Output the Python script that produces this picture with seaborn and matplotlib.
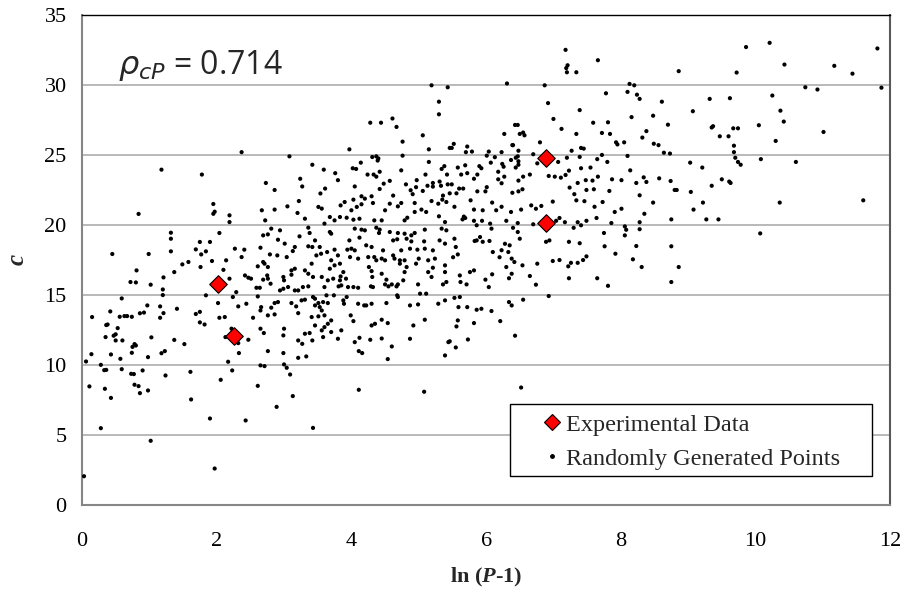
import matplotlib
matplotlib.use("Agg")
import matplotlib.pyplot as plt
import seaborn as sns
import pandas as pd
from matplotlib.lines import Line2D
from matplotlib.patches import Rectangle

# ---------------- data ----------------
exp_x = [2.02, 2.26, 6.89, 6.89]
exp_y = [15.80, 12.05, 24.80, 20.15]

random_points = [
    # upper-left / upper band
    (1.18, 23.95), (1.78, 23.6),
    (5.19, 29.97), (5.43, 29.83), (5.30, 28.8), (5.30, 27.9), (4.28, 27.3), (4.44, 27.3),
    (4.61, 27.6), (4.67, 27.0), (5.06, 26.4), (4.76, 25.95), (5.15, 25.4), (5.46, 25.5),
    (2.37, 25.2), (3.08, 24.9), (3.97, 25.4), (4.31, 24.85), (4.37, 24.9), (4.40, 24.75),
    (4.39, 24.6), (4.76, 24.95), (3.42, 24.3), (3.59, 23.95), (3.76, 23.7), (3.80, 23.2),
    (4.02, 24.05), (4.07, 24.0), (4.14, 24.45), (4.24, 23.6), (4.33, 23.6), (4.37, 23.45),
    (4.42, 23.8), (4.74, 23.9), (5.15, 24.5), (5.38, 24.2), (5.34, 24.0), (5.42, 23.6),
    (5.10, 23.6), (2.73, 23.0), (2.86, 22.5), (3.24, 23.3), (3.27, 22.75), (3.54, 22.25),
    (3.61, 22.6), (4.05, 22.75), (4.48, 22.95), (4.57, 23.15), (4.42, 22.57), (4.62, 22.1),
    (4.81, 22.9), (4.88, 22.48), (4.96, 22.7), (4.91, 22.2), (5.06, 22.43), (4.97, 23.2),
    (5.13, 22.8), (5.21, 23.0), (5.21, 22.74), (5.31, 23.1), (5.33, 22.8), (5.36, 22.1),
    (5.43, 22.9), (5.46, 22.26), (4.15, 22.05), (4.30, 22.05),
    # x 5.5-8.8, y > 22
    (7.18, 32.5), (7.66, 31.76), (7.19, 31.2), (7.21, 31.4), (7.20, 30.9), (7.34, 30.9),
    (6.31, 30.1), (6.87, 29.97), (8.13, 30.07), (8.20, 29.97), (7.78, 29.4), (8.10, 29.5),
    (8.24, 29.3), (8.28, 29.0), (8.61, 28.8), (6.92, 28.7), (7.39, 28.2), (7.00, 27.57),
    (8.16, 27.7), (8.48, 27.8), (8.70, 27.16), (7.59, 27.3), (7.81, 27.33), (7.12, 26.86),
    (6.43, 27.14), (6.47, 27.14), (6.27, 26.5), (6.50, 26.5), (6.55, 26.6), (6.57, 26.4),
    (7.34, 26.5), (7.72, 26.57), (7.84, 26.5), (8.38, 26.7), (8.32, 26.24), (7.93, 25.9),
    (7.95, 25.75), (8.05, 25.9), (8.49, 25.8), (8.56, 25.7), (6.80, 25.9), (6.39, 25.7),
    (6.48, 25.3), (7.41, 25.5), (7.45, 25.45), (7.27, 25.3), (8.64, 25.16), (8.73, 25.1),
    (7.72, 25.0), (8.10, 24.93), (7.39, 24.86), (7.20, 24.8), (7.07, 24.5), (7.80, 24.5),
    (7.65, 24.7), (6.70, 25.05), (6.76, 24.4), (6.47, 24.9), (6.44, 24.8), (6.48, 24.55),
    (6.48, 24.3), (6.44, 24.1),
    (5.49, 25.5), (5.52, 25.79), (5.72, 25.6), (5.79, 25.24), (5.70, 25.2), (5.58, 24.1),
    (5.69, 24.26), (5.63, 23.6), (5.72, 23.7), (5.82, 23.3), (5.87, 23.6), (5.90, 24.2),
    (5.93, 24.05), (6.01, 24.95), (6.04, 25.24), (6.07, 24.45), (6.13, 24.84), (6.23, 25.2),
    (6.24, 24.36), (6.26, 24.16), (6.18, 23.8), (6.18, 23.26), (6.23, 22.98), (6.27, 23.45),
    (6.37, 24.64), (6.40, 25.7), (6.48, 23.17), (6.55, 23.45), (6.65, 23.6), (6.39, 22.3),
    (6.48, 22.4), (6.54, 22.55), (5.49, 22.9), (5.60, 22.6), (5.66, 22.6), (5.56, 22.26),
    (5.87, 22.4), (5.99, 22.4), (6.01, 22.7),
    (6.93, 23.5), (7.02, 23.45), (7.11, 23.38), (7.18, 23.57), (7.23, 23.88), (7.24, 22.67),
    (7.31, 22.2), (7.36, 23.0), (7.48, 23.2), (7.49, 22.5), (7.58, 23.17), (7.60, 22.55),
    (7.55, 24.1), (7.66, 23.45), (7.87, 23.26), (8.01, 23.2), (7.83, 22.43), (8.14, 23.9),
    (8.23, 23.0), (8.34, 23.4), (8.38, 23.07), (8.57, 23.33), (8.74, 23.14), (8.28, 22.12),
    (8.80, 22.5), (7.41, 24.05),
    # right part
    (8.86, 30.98), (9.86, 32.7), (10.21, 33.0), (11.81, 32.6), (9.72, 30.88), (10.43, 31.45),
    (11.17, 31.36), (11.44, 30.8), (10.74, 29.83), (10.92, 29.67), (11.87, 29.8), (9.32, 29.0),
    (9.62, 29.05), (10.25, 29.24), (9.07, 28.12), (10.37, 28.16), (10.42, 27.38), (9.35, 26.96),
    (9.37, 27.05), (9.67, 26.9), (9.74, 26.9), (10.05, 27.12), (11.01, 26.64), (9.47, 26.33),
    (9.60, 26.33), (9.68, 25.66), (10.30, 26.0), (9.68, 25.2), (9.70, 24.8), (9.74, 24.5),
    (9.78, 24.3), (10.08, 24.7), (10.60, 24.5), (9.03, 24.45), (9.21, 24.1), (9.50, 23.26),
    (9.61, 23.1), (9.63, 23.0), (9.35, 22.8), (8.83, 22.5), (9.04, 22.36),
    (9.22, 21.6), (9.08, 21.1), (9.27, 20.4), (9.45, 20.4), (10.36, 21.6), (11.60, 21.76),
    (10.07, 19.4), (8.86, 17.0),
    # x 5.5-8.8, y < 22
    (6.09, 21.6), (5.77, 21.76), (6.82, 21.36), (6.99, 21.67), (7.34, 21.76), (7.46, 21.7),
    (7.61, 21.3), (7.73, 21.64), (8.48, 21.6), (5.53, 21.3), (5.65, 20.4), (5.67, 20.6),
    (5.69, 20.5), (5.82, 21.1), (5.95, 21.05), (6.15, 21.05), (6.23, 21.3), (6.37, 20.93),
    (6.52, 21.1), (6.67, 21.4), (6.74, 21.16), (5.82, 20.3), (5.94, 20.3), (5.86, 19.98),
    (6.06, 20.1), (6.08, 19.74), (6.30, 20.3), (6.47, 20.14), (6.40, 19.8), (6.47, 19.5),
    (6.70, 20.05), (7.04, 20.3), (7.09, 20.5), (7.17, 20.2), (7.30, 19.8), (7.36, 20.2),
    (7.41, 19.98), (7.49, 20.3), (7.64, 20.5), (7.86, 20.14), (7.91, 20.93), (8.01, 21.16),
    (8.06, 19.9), (8.08, 19.66), (8.28, 20.2), (8.28, 19.7), (8.35, 20.8), (8.75, 20.4),
    (5.53, 19.02), (5.55, 18.43), (5.51, 17.7), (5.58, 17.9), (5.91, 19.14), (5.86, 18.9),
    (5.95, 18.8), (6.05, 18.86), (5.83, 18.86), (6.10, 18.07), (6.23, 18.2), (6.28, 18.66),
    (6.35, 18.55), (6.33, 18.07), (6.38, 17.6), (6.20, 17.7), (6.42, 17.36), (6.30, 17.0),
    (6.50, 19.02), (6.54, 17.12), (6.76, 17.24), (6.94, 18.9), (6.89, 18.8), (7.23, 18.8),
    (7.39, 18.7), (6.99, 17.43), (7.09, 17.5), (7.22, 17.05), (7.26, 17.3), (7.36, 17.3),
    (7.44, 17.5), (7.49, 17.76), (7.75, 19.43), (7.76, 18.48), (7.92, 17.95), (8.06, 19.26),
    (8.18, 17.55), (8.23, 18.5), (8.31, 17.0), (8.75, 18.48), (8.75, 15.93), (7.81, 15.66),
    (7.65, 16.2), (7.23, 16.2), (6.74, 15.74), (6.65, 16.36), (6.38, 16.52), (6.34, 16.2),
    (6.09, 16.48), (5.99, 16.1), (6.04, 15.57), (5.76, 16.64), (5.82, 16.76), (5.61, 16.4),
    (5.62, 15.93), (5.71, 15.76), (5.53, 14.8), (5.61, 14.86), (5.59, 14.14), (5.72, 14.14),
    (5.86, 13.95), (5.93, 14.02), (6.08, 13.86), (6.21, 13.14), (6.34, 14.5), (6.38, 14.26),
    (6.55, 14.67), (6.93, 14.93), (6.43, 12.1), (5.82, 13.0), (5.58, 13.19), (5.56, 12.76),
    (5.73, 11.83), (5.55, 11.26), (5.46, 11.7), (6.52, 8.4),
    # left part
    (0.84, 20.79), (1.95, 21.5), (1.95, 20.8), (1.97, 20.95), (0.45, 17.93), (0.99, 17.93),
    (1.32, 19.45), (1.32, 19.02), (1.32, 18.12), (1.37, 16.64), (1.49, 17.19), (1.58, 17.36),
    (1.69, 18.26), (1.75, 18.79), (1.77, 17.9), (1.84, 18.12), (1.90, 18.79), (1.93, 17.43),
    (2.04, 19.43), (1.76, 17.0), (2.10, 16.8), (0.81, 16.76), (0.72, 15.93), (0.80, 15.9),
    (1.02, 15.74), (1.21, 16.26), (1.20, 15.4), (1.20, 15.0), (0.59, 14.76), (0.42, 13.83),
    (0.15, 13.43), (0.56, 13.45), (0.63, 13.5), (0.67, 13.5), (0.74, 13.45), (0.86, 13.7),
    (0.92, 13.75), (0.97, 14.26), (1.16, 14.19), (1.21, 13.71), (1.16, 13.38), (1.41, 14.02),
    (1.69, 13.65), (1.75, 13.8), (1.75, 13.05), (1.82, 12.9), (1.84, 14.98), (2.02, 14.43),
    (2.04, 13.38), (0.36, 12.86), (0.38, 12.9), (0.53, 12.64), (0.50, 12.2), (0.47, 12.1),
    (0.35, 12.0), (0.50, 11.76), (0.60, 11.76), (1.03, 11.98), (1.37, 11.8), (1.52, 11.5),
    (0.78, 11.5), (0.80, 11.4), (0.75, 11.3), (0.74, 10.88), (0.57, 10.45), (0.43, 10.76),
    (0.14, 10.78), (0.06, 10.26), (0.28, 10.02), (0.98, 10.57), (1.18, 10.85), (1.23, 11.0),
    (0.33, 9.64), (0.36, 9.66), (0.59, 9.71), (0.73, 9.38), (0.77, 9.36), (0.90, 9.62),
    (1.24, 9.26), (1.61, 9.52), (2.06, 8.95), (0.11, 8.48), (0.34, 8.31), (0.78, 8.6),
    (0.84, 8.5), (0.86, 8.0), (0.98, 8.19), (2.13, 12.0),
    (0.43, 7.66), (0.28, 5.5), (1.02, 4.6), (1.62, 7.55), (1.90, 6.19), (1.97, 2.62),
    (0.03, 2.07), (2.43, 6.05), (2.89, 7.02), (3.13, 7.79), (3.43, 5.52),
    # dense centre x 2.1-5.5, y 8-22
    (3.22, 21.71), (3.51, 21.29), (3.56, 21.17), (3.84, 21.40), (3.90, 21.64), (4.03, 21.81),
    (4.15, 21.48), (4.20, 21.88), (4.32, 21.57), (4.57, 21.52), (4.74, 21.57), (4.94, 21.57),
    (5.19, 21.71), (5.29, 21.52), (5.35, 21.81), (5.41, 21.64), (2.67, 21.05), (2.86, 21.10),
    (3.05, 21.33), (4.00, 21.05), (4.08, 21.29), (4.50, 21.05), (4.69, 21.33), (4.94, 20.93),
    (5.04, 21.10), (5.11, 20.93), (2.19, 20.69), (2.19, 20.21), (2.72, 20.33), (3.20, 20.86),
    (3.31, 20.45), (3.60, 20.10), (3.68, 20.57), (3.75, 20.33), (3.83, 20.57), (3.93, 20.52),
    (4.03, 20.38), (4.12, 20.45), (4.34, 20.33), (4.45, 20.33), (4.79, 20.33), (4.83, 20.52),
    (5.30, 20.62), (5.39, 20.21), (2.81, 19.74), (2.94, 19.62), (2.69, 19.26), (2.76, 19.33),
    (2.91, 18.95), (3.01, 18.67), (3.23, 19.19), (3.38, 19.43), (3.46, 18.90), (3.36, 19.81),
    (3.68, 19.50), (3.70, 19.38), (4.05, 19.74), (4.15, 19.67), (4.20, 19.62), (4.12, 19.10),
    (4.37, 19.81), (4.42, 19.67), (4.41, 19.43), (4.57, 19.50), (4.69, 19.43), (4.62, 18.90),
    (4.68, 18.98), (4.79, 19.38), (4.82, 19.02), (4.89, 19.26), (4.89, 18.83), (4.94, 19.43),
    (5.09, 19.67), (5.08, 18.83), (5.34, 19.74), (5.41, 19.62), (5.31, 18.90), (5.39, 18.67),
    (3.97, 18.90), (4.00, 18.31), (4.05, 18.19), (4.22, 18.55), (4.30, 18.43), (4.47, 18.19),
    (4.74, 18.19), (4.87, 18.31), (4.98, 18.24), (5.09, 18.31), (5.21, 18.19), (2.27, 18.31),
    (2.41, 18.24), (2.65, 18.38), (2.79, 17.90), (2.90, 17.83), (3.16, 18.43), (3.13, 18.14),
    (3.36, 18.48), (3.42, 18.43), (3.53, 18.43), (3.64, 18.07), (3.75, 18.24), (3.80, 17.83),
    (3.94, 18.24), (2.14, 17.48), (2.37, 17.71), (2.61, 17.05), (2.69, 17.36), (2.71, 17.24),
    (2.76, 17.00), (2.75, 16.40), (3.04, 17.71), (3.11, 16.76), (3.16, 16.88), (3.31, 16.76),
    (3.41, 17.24), (3.48, 17.83), (3.55, 17.95), (3.70, 17.48), (3.68, 16.88), (3.75, 17.12),
    (3.83, 17.24), (3.88, 16.64), (3.84, 16.33), (3.98, 17.71), (4.10, 17.60), (4.25, 17.71),
    (4.34, 17.71), (4.37, 17.48), (4.45, 17.60), (4.26, 17.00), (4.30, 16.71), (4.31, 16.29),
    (4.50, 17.48), (4.62, 17.83), (4.64, 17.60), (4.72, 17.48), (4.72, 17.24), (4.79, 17.48),
    (4.82, 17.00), (4.79, 16.64), (5.00, 17.60), (4.96, 17.24), (5.14, 17.48), (5.24, 17.60),
    (5.39, 17.12), (5.39, 16.64), (5.21, 16.95), (5.14, 16.64), (5.19, 16.29), (4.45, 16.52),
    (4.52, 16.10), (4.60, 15.76), (2.42, 16.40), (2.47, 16.24), (2.51, 16.17), (2.69, 16.10),
    (2.76, 16.17), (2.99, 16.29), (3.00, 16.05), (3.11, 16.45), (3.36, 16.52), (3.43, 16.29),
    (3.56, 16.29), (3.65, 16.05), (3.73, 16.17), (3.83, 16.05), (3.85, 15.69), (3.92, 16.17),
    (3.81, 15.62), (3.95, 15.57), (4.03, 15.57), (4.10, 15.52), (4.29, 15.62), (4.32, 15.57),
    (4.50, 15.76), (4.55, 15.62), (4.67, 15.62), (4.69, 15.76), (4.77, 16.05), (4.99, 15.76),
    (5.02, 15.10), (5.11, 15.10), (5.36, 15.76), (5.41, 15.93), (2.19, 16.17), (2.29, 15.21),
    (2.59, 15.52), (2.64, 15.52), (2.80, 15.81), (2.94, 15.33), (2.99, 15.45), (3.06, 15.57),
    (3.16, 15.33), (3.21, 15.33), (3.28, 15.57), (3.36, 15.62), (3.43, 14.86), (3.46, 14.74),
    (3.60, 15.57), (3.63, 14.98), (3.65, 14.43), (3.74, 14.98), (3.89, 14.38), (3.88, 14.62),
    (3.93, 14.86), (4.10, 14.38), (4.19, 14.26), (4.22, 14.26), (4.30, 14.38), (4.52, 14.43),
    (4.68, 14.98), (4.69, 14.86), (4.87, 14.26), (4.99, 14.33), (5.29, 14.38), (5.39, 14.62),
    (2.61, 14.90), (2.91, 14.50), (2.86, 14.43), (2.81, 14.10), (2.66, 14.14), (2.65, 13.90),
    (2.32, 14.19), (2.44, 14.38), (2.24, 14.86), (3.26, 14.62), (3.31, 14.67), (3.11, 14.43),
    (3.18, 14.19), (3.46, 14.26), (3.51, 14.43), (3.58, 14.50), (3.53, 14.14), (3.56, 13.90),
    (2.12, 13.43), (2.22, 12.60), (2.32, 11.57), (2.47, 11.81), (2.54, 13.38), (2.76, 13.55),
    (2.86, 13.62), (3.21, 13.71), (3.41, 13.43), (3.51, 13.48), (3.60, 13.55), (3.46, 12.83),
    (3.60, 12.71), (3.65, 12.95), (3.70, 12.36), (3.70, 13.19), (3.85, 12.48), (3.99, 13.55),
    (4.03, 13.14), (4.30, 12.83), (4.35, 12.95), (4.45, 13.24), (4.45, 11.90), (4.54, 13.00),
    (4.92, 12.83), (5.09, 13.24), (2.65, 12.60), (2.70, 12.29), (3.00, 12.60), (2.99, 12.12),
    (3.21, 11.76), (3.27, 11.52), (3.31, 12.24), (3.38, 12.29), (3.42, 11.76), (3.56, 12.48),
    (3.58, 12.00), (3.80, 11.88), (4.05, 11.64), (4.12, 11.95), (4.28, 11.81), (4.87, 11.88),
    (5.44, 11.64), (2.76, 11.00), (2.99, 10.86), (3.21, 10.52), (3.33, 10.62), (4.11, 11.00),
    (4.16, 10.86), (4.54, 10.43), (4.60, 11.33), (5.39, 10.69), (2.17, 10.24), (2.23, 9.62),
    (2.65, 9.98), (2.71, 9.93), (3.00, 10.05), (3.04, 9.81), (3.09, 9.33), (2.61, 8.52),
    (4.11, 8.24), (5.08, 8.10), (2.33, 10.86),
]

x_ticks = [0, 2, 4, 6, 8, 10, 12]
y_ticks = [0, 5, 10, 15, 20, 25, 30, 35]
x_label = r"ln ($\boldsymbol{P}$-1)"
y_label = r"$\boldsymbol{c}$"
rho_text = r"$\rho_{cP}$ = 0.714"
legend_labels = ["Experimental Data", "Randomly Generated Points"]

rand_df = pd.DataFrame(random_points, columns=["lnP", "c"])
exp_df = pd.DataFrame({"lnP": exp_x, "c": exp_y})

# ---------------- figure ----------------
sns.set_theme(style="white")
plt.rcParams["font.family"] = ["Liberation Serif", "DejaVu Serif"]
plt.rcParams["mathtext.fontset"] = "custom"
plt.rcParams["mathtext.rm"] = "Liberation Serif"
plt.rcParams["mathtext.it"] = "Liberation Serif:italic"
plt.rcParams["mathtext.bf"] = "Liberation Serif:bold"
plt.rcParams["mathtext.bfit"] = "Liberation Serif:bold:italic"

fig = plt.figure(figsize=(9.01, 5.93), dpi=100)
ax = fig.add_axes([0.091, 0.148, 0.897, 0.827])

ax.set_axisbelow(True)
ax.yaxis.grid(True, color="#a6a6a6", linewidth=1.1)
ax.xaxis.grid(False)

sns.scatterplot(data=rand_df, x="lnP", y="c", ax=ax, s=9, color="black",
                edgecolor="none", linewidth=0, zorder=3)
sns.scatterplot(data=exp_df, x="lnP", y="c", ax=ax, s=80, marker="D",
                color="#ff0000", edgecolor="black", linewidth=0.8, zorder=4)

ax.set_xlim(0, 12)
ax.set_ylim(0, 35)
ax.set_xticks(x_ticks)
ax.set_yticks(y_ticks)
ax.tick_params(axis="both", which="both", labelsize=16, colors="#888888",
               length=5, width=1, direction="out", labelcolor="black")
ax.tick_params(axis="x", pad=14)
ax.tick_params(axis="y", pad=6)

for side in ["left", "bottom"]:
    ax.spines[side].set_color("#868686")
    ax.spines[side].set_linewidth(1.5)
ax.spines["top"].set_color("#000000")
ax.spines["top"].set_linewidth(1.0)
ax.spines["right"].set_color("#595959")
ax.spines["right"].set_linewidth(1.5)

ax.set_xlabel(x_label, fontsize=16, fontweight="bold", labelpad=11)
ax.set_ylabel(y_label, fontsize=18, fontweight="bold", labelpad=11)

ax.text(0.53, 31.4, rho_text, fontsize=23, va="center", ha="left",
        family=["Open Sans", "DejaVu Sans"],
        math_fontfamily="dejavusans")

# legend frame (Excel style, wide padding)
frame = Rectangle((0.5297, 0.0592), 0.9777 - 0.5297, 0.2061 - 0.0592,
                  transform=ax.transAxes, facecolor="white", edgecolor="black",
                  linewidth=1.0, zorder=5)
ax.add_patch(frame)

handles = [
    Line2D([], [], marker="D", linestyle="none", markersize=8.5,
           markerfacecolor="#ff0000", markeredgecolor="black", markeredgewidth=0.8),
    Line2D([], [], marker="o", linestyle="none", markersize=2.5,
           markerfacecolor="black", markeredgecolor="black"),
]
leg = ax.legend(handles, legend_labels,
                loc="center left", bbox_to_anchor=(0.570, 0.1296), fontsize=17.5,
                frameon=False, handlelength=0.8, handletextpad=0.15, borderpad=0,
                labelspacing=0.5, borderaxespad=0)
leg.set_zorder(6)

fig.savefig("out.png", dpi=100)
